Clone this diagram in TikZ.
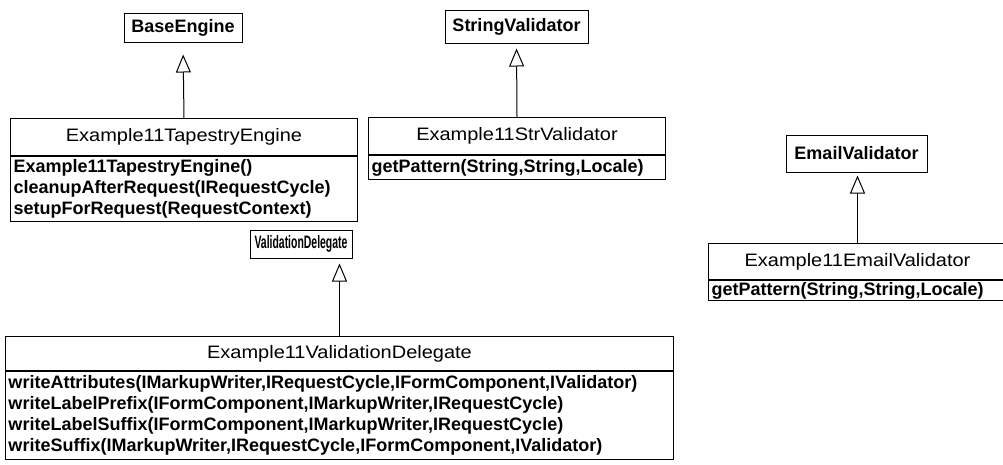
\documentclass[tikz,border=0pt]{standalone}
\usepackage{fontspec}
\setmainfont{Liberation Sans}
\newfontfamily\widefont[FakeStretch=1.11]{Liberation Sans}
\usetikzlibrary{arrows.meta}

\begin{document}
\begin{tikzpicture}[x=1pt,y=-1pt]
    \tikzset{
        every node/.style={font=\fontsize{18}{21}\selectfont},
        parent/.style={draw, line width=1pt, inner sep=0pt,
            font=\fontsize{18}{21}\selectfont\bfseries},
        clshead/.style={draw, line width=1pt, anchor=north west, inner sep=0pt,
            font=\fontsize{18}{21}\selectfont\widefont},
        clsops/.style={draw, line width=1pt, anchor=north west, inner xsep=3pt,
            inner ysep=0pt, align=left, font=\fontsize{18}{21}\selectfont\bfseries},
        inherit/.style={line width=1pt, -{Triangle[open, length=18pt, width=15pt]},
            shorten >=5pt},
    }
    \useasboundingbox (0,0) rectangle (1003,464);
    % the base classes
    \node[parent, minimum width=118, minimum height=29] (base) at (183,27.5) {BaseEngine};
    \node[parent, minimum width=143, minimum height=33] (strv) at (516.5,26.5) {StringValidator};
    \node[parent, minimum width=141, minimum height=37] (emv) at (856.5,153.5) {EmailValidator};
    \node[parent, minimum width=102, minimum height=28] (valdel) at (301,244)
        {\scalebox{0.58}[1]{ValidationDelegate}};
    % the Example11 classes, name then operations
    \node[clshead, minimum width=347, minimum height=37] (tap) at (10,118) {Example11TapestryEngine};
    \node[clsops, minimum width=347, minimum height=65, text width=341] (tapops) at (tap.south west)
        {Example11TapestryEngine()\\cleanupAfterRequest(IRequestCycle)\\setupForRequest(RequestContext)};
    \node[clshead, minimum width=297, minimum height=37] (strx) at (368,117) {Example11StrValidator};
    \node[clsops, minimum width=297, minimum height=24, text width=291] (strxops) at (strx.south west)
        {getPattern(String,String,Locale)};
    \node[clshead, minimum width=298, minimum height=36] (emx) at (708,243) {Example11EmailValidator};
    \node[clsops, minimum width=298, minimum height=20, text width=292] (emxops) at (emx.south west)
        {getPattern(String,String,Locale)};
    \node[clshead, minimum width=668, minimum height=34] (del) at (5,336) {Example11ValidationDelegate};
    \node[clsops, minimum width=668, minimum height=88, text width=662] (delops) at (del.south west)
        {writeAttributes(IMarkupWriter,IRequestCycle,IFormComponent,IValidator)\\
         writeLabelPrefix(IFormComponent,IMarkupWriter,IRequestCycle)\\
         writeLabelSuffix(IFormComponent,IMarkupWriter,IRequestCycle)\\
         writeSuffix(IMarkupWriter,IRequestCycle,IFormComponent,IValidator)};
    % generalisations
    \draw[inherit, shorten >=12pt] (tap.north) -- (base.south);
    \draw[inherit] (strx.north) -- (strv.south);
    \draw[inherit, shorten >=3pt] (emx.north) -- (emx.north |- emv.south);
    \draw[inherit] (del.north) -- (del.north |- valdel.south);
\end{tikzpicture}
\end{document}
